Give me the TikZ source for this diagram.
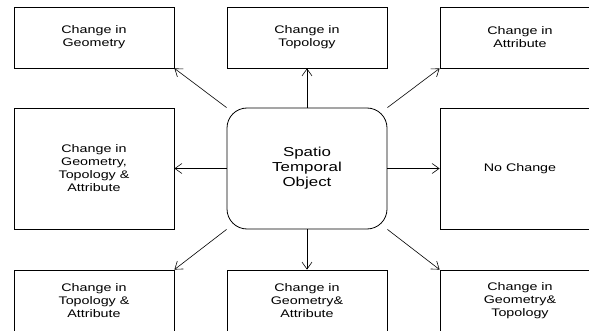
\documentclass[tikz,border=0pt]{standalone}
\usepackage{fontspec}
\setmainfont{Liberation Sans}[FakeStretch=1.3]
\usetikzlibrary{arrows.meta}
\begin{document}
\begin{tikzpicture}[x=1pt,y=-1pt,
  box/.style={draw, line width=0.8pt, minimum width=160pt, minimum height=61pt,
    inner sep=0pt, align=center, font=\fontsize{11}{13}\selectfont},
  tall/.style={box, minimum height=121pt},
  core/.style={tall, rounded corners=20pt, font=\fontsize{13}{15}\selectfont},
  link/.style={line width=0.6pt, -{Straight Barb[length=7pt,width=10pt]}}]
\useasboundingbox (0,0) rectangle (589,331);

% central object
\node[core] (obj) at (307,168.5) {Spatio\\Temporal\\Object};

% kinds of change
\node[box]  (geo)    at (94,37.5)   {Change in\\Geometry};
\node[box]  (topo)   at (307,37.5)  {Change in\\Topology};
\node[box]  (attr)   at (520,37.5)  {Change in\\Attribute};
\node[tall] (all)    at (94,168.5)  {Change in\\Geometry,\\Topology \&\\Attribute};
\node[tall] (none)   at (520,168.5) {No Change};
\node[box]  (topoat) at (94,300.5)  {Change in\\Topology \&\\Attribute};
\node[box]  (geoat)  at (307,300.5) {Change in\\Geometry\&\\Attribute};
\node[box]  (geotop) at (520,300.5) {Change in\\Geometry\&\\Topology};

% connectors
\draw[link] (obj.north) -- (topo.south);
\draw[link] (obj.south) -- (geoat.north);
\draw[link] (obj.west) -- (all.east);
\draw[link] (obj.east) -- (none.west);
\draw[link] (obj.north west) -- (geo.south east);
\draw[link] (obj.north east) -- (attr.south west);
\draw[link] (obj.south west) -- (topoat.north east);
\draw[link] (obj.south east) -- (geotop.north west);
\end{tikzpicture}
\end{document}
